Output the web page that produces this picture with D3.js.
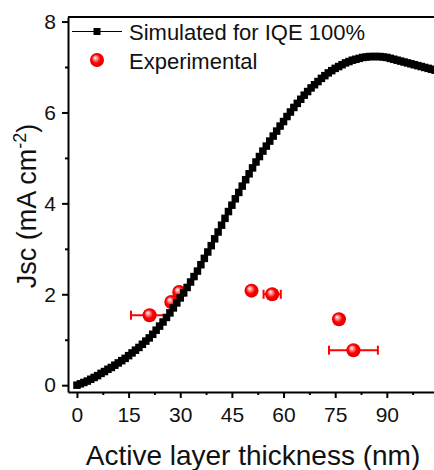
<!DOCTYPE html>
<html>
<head>
<meta charset="utf-8">
<script src="https://cdn.jsdelivr.net/npm/d3@7"></script>
<style>
  body { margin: 0; background: #fff; }
  svg { display: block; font-family: "Liberation Sans", Arial, sans-serif; }
</style>
</head>
<body>
<svg id="chart" width="434" height="470"></svg>
<script>
// simulated Jsc (IQE 100%) read every 1 nm, from 0 to 104 nm
const simThickness = d3.range(0, 105);
const simJsc = [
  0.00, 0.03, 0.06, 0.09, 0.13, 0.17, 0.21, 0.26, 0.30, 0.35,
  0.39, 0.44, 0.49, 0.54, 0.59, 0.65, 0.71, 0.77, 0.83, 0.90,
  0.97, 1.04, 1.12, 1.21, 1.30, 1.39, 1.49, 1.59, 1.70, 1.81,
  1.92, 2.03, 2.15, 2.27, 2.39, 2.51, 2.65, 2.79, 2.93, 3.07,
  3.22, 3.37, 3.52, 3.67, 3.82, 3.96, 4.10, 4.24, 4.38, 4.52,
  4.65, 4.78, 4.91, 5.03, 5.15, 5.26, 5.37, 5.48, 5.59, 5.70,
  5.80, 5.91, 6.01, 6.11, 6.20, 6.29, 6.38, 6.46, 6.54, 6.61,
  6.68, 6.75, 6.81, 6.87, 6.92, 6.97, 7.01, 7.05, 7.09, 7.12,
  7.15, 7.17, 7.19, 7.21, 7.22, 7.23, 7.23, 7.23, 7.23, 7.22,
  7.21, 7.19, 7.17, 7.15, 7.13, 7.11, 7.09, 7.07, 7.05, 7.03,
  7.01, 6.99, 6.97, 6.95, 6.93
];

// experimental devices
const expThickness = [21.1, 27.4, 29.7, 50.7, 56.7, 76.1, 80.3];
const expJsc       = [1.54, 1.83, 2.05, 2.08, 2.00, 1.45, 0.77];
const expErr       = [5.4, 0, 0, 0, 2.5, 0, 7.1];

const xTicks = [0, 15, 30, 45, 60, 75, 90];
const xMinor = [7.5, 22.5, 37.5, 52.5, 67.5, 82.5, 97.5];
const yTicks = [0, 2, 4, 6, 8];
const yMinor = [1, 3, 5, 7];

const legendLabels = ['Simulated for IQE 100%', 'Experimental'];

const svg = d3.select('#chart');
const mLeft = 68, mRight = 434, mTop = 17, mBottom = 392;

const x = d3.scaleLinear([-2.6, 103.7], [mLeft, mRight]);
const y = d3.scaleLinear([-0.15, 8.1], [mBottom, mTop]);

/*
Gradient for the red spheres
*/
const grad = svg.append('defs').append('radialGradient')
  .attr('id', 'ball')
  .attr('cx', '50%').attr('cy', '50%').attr('r', '55%')
  .attr('fx', '35%').attr('fy', '32%');
grad.append('stop').attr('offset', '0%').attr('stop-color', '#ffffff');
grad.append('stop').attr('offset', '25%').attr('stop-color', '#ff9090');
grad.append('stop').attr('offset', '55%').attr('stop-color', '#ff0000');
grad.append('stop').attr('offset', '100%').attr('stop-color', '#d80000');

/*
Experimental points with x error bars (drawn under the simulated curve)
*/
const exp = expThickness.map((t, i) => ({ t, v: expJsc[i], e: expErr[i] }));
const eb = svg.append('g').attr('class', 'errbars')
  .selectAll('g').data(exp.filter(d => d.e > 0)).join('g')
  .attr('stroke', '#f00').attr('stroke-width', 2);
eb.append('line')
  .attr('x1', d => x(d.t - d.e)).attr('x2', d => x(d.t + d.e))
  .attr('y1', d => y(d.v)).attr('y2', d => y(d.v));
eb.append('line')
  .attr('x1', d => x(d.t - d.e)).attr('x2', d => x(d.t - d.e))
  .attr('y1', d => y(d.v) - 4.5).attr('y2', d => y(d.v) + 4.5);
eb.append('line')
  .attr('x1', d => x(d.t + d.e)).attr('x2', d => x(d.t + d.e))
  .attr('y1', d => y(d.v) - 4.5).attr('y2', d => y(d.v) + 4.5);

svg.append('g').attr('class', 'exp')
  .selectAll('circle').data(exp).join('circle')
  .attr('cx', d => x(d.t)).attr('cy', d => y(d.v))
  .attr('r', 7)
  .attr('fill', 'url(#ball)');

/*
Simulated curve: dense black squares
*/
const sim = simThickness.map((t, i) => ({ t, v: simJsc[i] }));
const sq = 7.5;
svg.append('g').attr('class', 'sim')
  .selectAll('rect').data(sim).join('rect')
  .attr('x', d => x(d.t) - sq / 2)
  .attr('y', d => y(d.v) - sq / 2)
  .attr('width', sq).attr('height', sq)
  .attr('fill', '#000');

/*
Axes
*/
svg.append('g')
  .attr('transform', `translate(0,${mBottom})`)
  .call(d3.axisBottom(x).tickValues(xTicks).tickSize(6).tickSizeOuter(0).tickPadding(9));
svg.append('g')
  .attr('transform', `translate(0,${mBottom})`)
  .call(d3.axisBottom(x).tickValues(xMinor).tickSize(3).tickSizeOuter(0).tickFormat(''))
  .select('.domain').remove();

svg.append('g')
  .attr('transform', `translate(${mLeft},0)`)
  .call(d3.axisLeft(y).tickValues(yTicks).tickSize(6).tickSizeOuter(0).tickPadding(6));
svg.append('g')
  .attr('transform', `translate(${mLeft},0)`)
  .call(d3.axisLeft(y).tickValues(yMinor).tickSize(3).tickSizeOuter(0).tickFormat(''))
  .select('.domain').remove();

svg.selectAll('.tick line').attr('stroke', '#000').attr('stroke-width', 2);
svg.selectAll('.domain').attr('stroke', '#000').attr('stroke-width', 2);
svg.selectAll('.tick text')
  .attr('fill', '#111')
  .style('font-size', '21px')
  .style('font-family', '"Liberation Sans", Arial, sans-serif');

// top frame line
svg.append('line')
  .attr('x1', mLeft).attr('x2', mRight)
  .attr('y1', mTop).attr('y2', mTop)
  .attr('stroke', '#000').attr('stroke-width', 2);

/*
Axis titles
*/
svg.append('text')
  .attr('x', 253).attr('y', 465)
  .attr('text-anchor', 'middle')
  .attr('fill', '#111')
  .style('font-size', '28px')
  .text('Active layer thickness (nm)');

const yt = svg.append('text')
  .attr('transform', 'translate(36,206) rotate(-90)')
  .attr('text-anchor', 'middle')
  .attr('fill', '#111')
  .style('font-size', '27px');
yt.append('tspan').text('Jsc (mA cm');
yt.append('tspan').attr('dy', -10).style('font-size', '18px').text('-2');
yt.append('tspan').attr('dy', 10).text(')');

/*
Legend
*/
const lg = svg.append('g').attr('class', 'legend');
lg.append('line')
  .attr('x1', 72).attr('x2', 122).attr('y1', 31.5).attr('y2', 31.5)
  .attr('stroke', '#000').attr('stroke-width', 1);
lg.append('rect')
  .attr('x', 97 - 3.5).attr('y', 31.5 - 3.5).attr('width', 7).attr('height', 7)
  .attr('fill', '#000');
lg.append('circle')
  .attr('cx', 97).attr('cy', 60).attr('r', 7)
  .attr('fill', 'url(#ball)');
lg.selectAll('text').data(legendLabels).join('text')
  .attr('x', 129).attr('y', (d, i) => 40 + i * 28.5)
  .attr('fill', '#111')
  .style('font-size', '22px')
  .text(d => d);
</script>
</body>
</html>
